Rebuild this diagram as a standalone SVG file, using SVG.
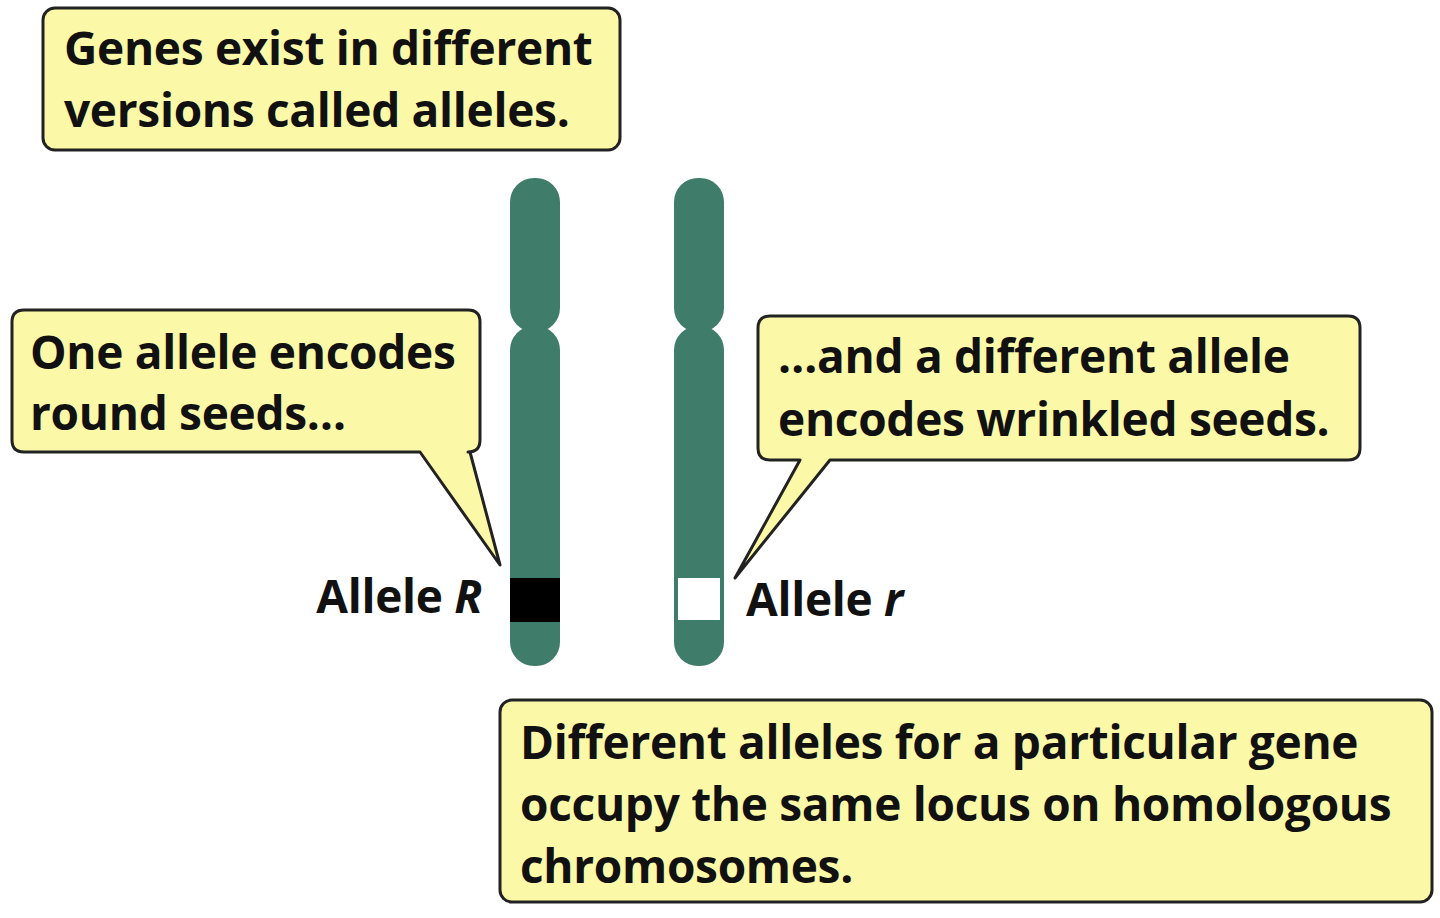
<svg xmlns="http://www.w3.org/2000/svg" width="1440" height="918" viewBox="0 0 1440 918">
<style>
.box{fill:#fbf8a8;stroke:#222;stroke-width:3;stroke-linejoin:round}
.t{font-family:"Open Sans","Liberation Sans",sans-serif;font-weight:bold;font-size:46px;fill:#111;letter-spacing:-0.3px}
.chr{fill:#3f7c69}
</style>
<rect width="1440" height="918" fill="#fff"/>
<g id="chromosome-left">
<rect class="chr" x="510" y="178" width="50" height="154" rx="24"/>
<rect class="chr" x="510" y="326" width="50" height="340" rx="24"/>
<rect x="510" y="578" width="50" height="44" fill="#000"/>
</g>
<g id="chromosome-right">
<rect class="chr" x="674" y="178" width="50" height="154" rx="24"/>
<rect class="chr" x="674" y="326" width="50" height="340" rx="24"/>
<rect x="678" y="578" width="42" height="42" fill="#fff"/>
</g>
<g id="box-top">
<rect class="box" x="43" y="8" width="577" height="142" rx="12"/>
<text class="t" x="64" y="65">Genes exist in different</text>
<text class="t" x="64" y="127">versions called alleles.</text>
</g>
<g id="box-left">
<path class="box" d="M24,310 H468 Q480,310 480,322 V440 Q480,452 468,452 H470 L500,565 L420,452 H24 Q12,452 12,440 V322 Q12,310 24,310 Z"/>
<text class="t" x="30" y="369">One allele encodes</text>
<text class="t" x="30" y="430">round seeds…</text>
</g>
<g id="box-right">
<path class="box" d="M770,316 H1348 Q1360,316 1360,328 V448 Q1360,460 1348,460 H830 L735,578 L800,460 H770 Q758,460 758,448 V328 Q758,316 770,316 Z"/>
<text class="t" x="778" y="373">…and a different allele</text>
<text class="t" x="778" y="436">encodes wrinkled seeds.</text>
</g>
<g id="box-bottom">
<rect class="box" x="500" y="700" width="932" height="202" rx="12"/>
<text class="t" x="520" y="759">Different alleles for a particular gene</text>
<text class="t" x="520" y="821">occupy the same locus on homologous</text>
<text class="t" x="520" y="883">chromosomes.</text>
</g>
<g id="label-R"><text class="t" x="482" y="613" text-anchor="end">Allele <tspan font-style="italic">R</tspan></text></g>
<g id="label-r"><text class="t" x="746" y="616">Allele <tspan font-style="italic">r</tspan></text></g>
<g id="connectors"/>
</svg>
